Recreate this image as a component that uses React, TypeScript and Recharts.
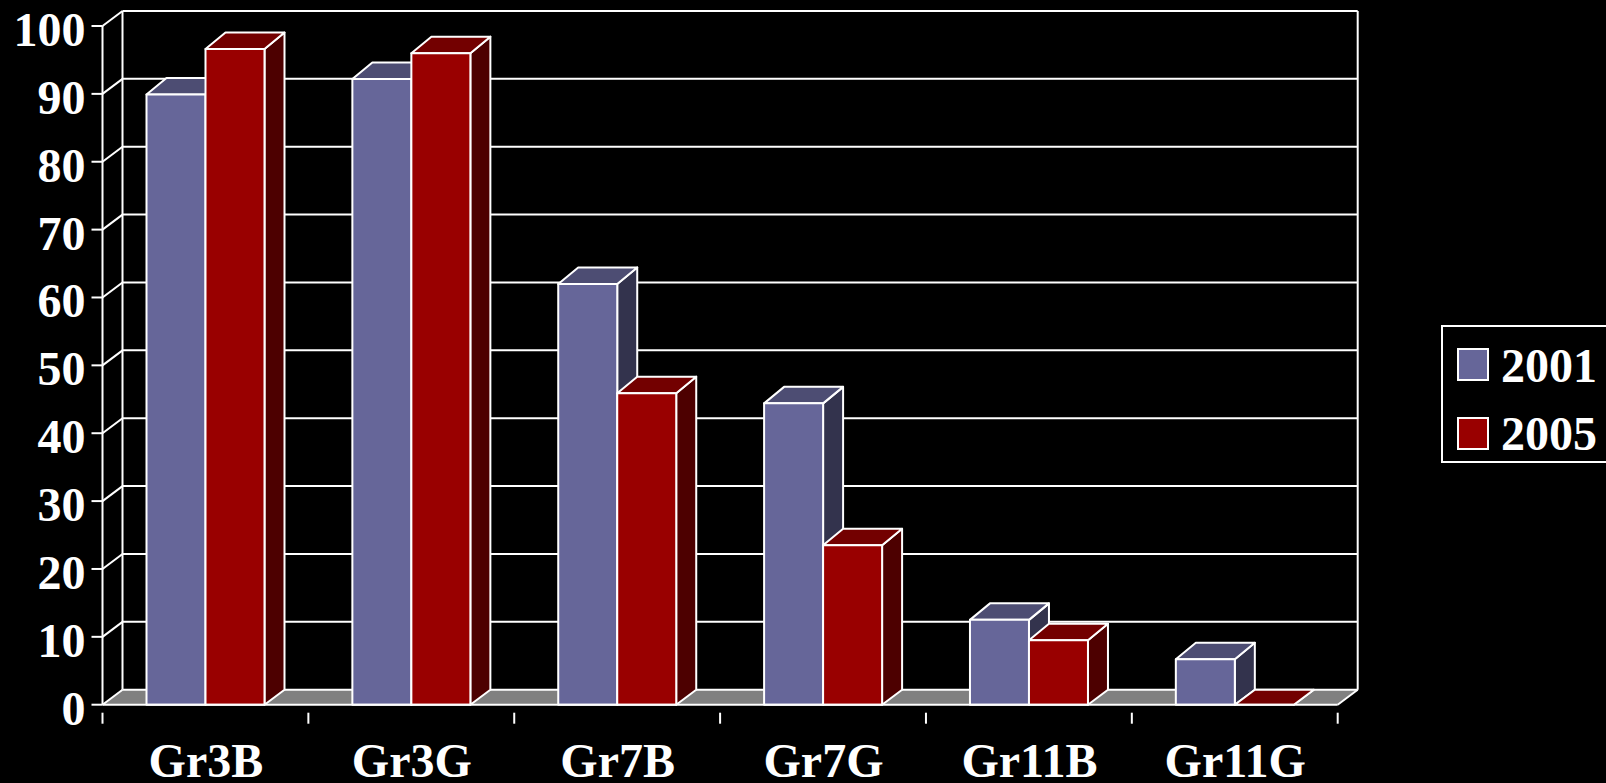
import React from "react";
import { BarChart, Bar, XAxis, YAxis, CartesianGrid, Legend } from "recharts";

const categories = ["Gr3B", "Gr3G", "Gr7B", "Gr7G", "Gr11B", "Gr11G"];
const values2001 = [89.9, 92.2, 62.0, 44.4, 12.5, 6.7];
const values2005 = [96.6, 96.0, 45.9, 23.5, 9.5, 0];
const yTicks = [0, 10, 20, 30, 40, 50, 60, 70, 80, 90, 100];
const seriesNames = ["2001", "2005"];

const table = categories.map((name, i) => ({
  name,
  [seriesNames[0]]: values2001[i],
  [seriesNames[1]]: values2005[i],
}));

const FONT = "'Liberation Serif', 'Times New Roman', serif";
const DX = 20;
const DY = 15;
const BAR_TOP_DY = 16.5;
const LINE = "#ffffff";

const palette = {
  blue: { front: "#666699", top: "#4d4d73", side: "#33334d" },
  red: { front: "#990000", top: "#730000", side: "#4d0000" },
};

const box = (colors: typeof palette.blue) => (props: any) => {
  const { x, y, width, height } = props;
  const r = x + width;
  const b = y + height;
  const dy = height > 0 ? BAR_TOP_DY : DY;
  const common = { stroke: LINE, strokeWidth: 2, strokeLinejoin: "round" as const };
  return (
    <g>
      <polygon points={`${r},${y} ${r + DX},${y - dy} ${r + DX},${b - DY} ${r},${b}`} fill={colors.side} {...common} />
      <polygon points={`${x},${y} ${x + DX},${y - dy} ${r + DX},${y - dy} ${r},${y}`} fill={colors.top} {...common} />
      {height > 0 && <rect x={x} y={y} width={width} height={height} fill={colors.front} {...common} />}
    </g>
  );
};

const gridLine = (props: any) => {
  const { x1, x2, y1, y, height } = props;
  const isFloor = Math.abs(y1 - (y + height)) < 0.5;
  const top = y - DY;
  const back = y1 - DY;
  return (
    <g key={`grid-${y1}`}>
      {isFloor && (
        <>
          <polygon points={`${x1},${y1} ${x1 + DX},${back} ${x2 + DX},${back} ${x2},${y1}`} fill="#808080" />
          <line x1={x1 + DX} y1={top} x2={x1 + DX} y2={back} stroke={LINE} strokeWidth={2} />
          <line x1={x2 + DX} y1={top} x2={x2 + DX} y2={back} stroke={LINE} strokeWidth={2} />
          <line x1={x2} y1={y1} x2={x2 + DX} y2={back} stroke={LINE} strokeWidth={2} />
        </>
      )}
      <line x1={x1 + DX} y1={back} x2={x2 + DX} y2={back} stroke={LINE} strokeWidth={2} />
      <line x1={x1} y1={y1} x2={x1 + DX} y2={back} stroke={LINE} strokeWidth={2} />
    </g>
  );
};

const yTick = (props: any) => (
  <text x={85.5} y={props.y + 20} textAnchor="end" fontFamily={FONT} fontWeight={700} fontSize={48} fill={LINE}>
    {props.payload.value}
  </text>
);

const xTick = (props: any) => {
  const { x, y, payload, index, width } = props;
  const half = width / categories.length / 2;
  const axisY = y;
  return (
    <g>
      <line x1={x - half} y1={axisY} x2={x - half} y2={axisY + 11} stroke={LINE} strokeWidth={2} />
      {index === categories.length - 1 && (
        <line x1={x + half} y1={axisY} x2={x + half} y2={axisY + 11} stroke={LINE} strokeWidth={2} />
      )}
      <text x={x + 0.5} y={777} textAnchor="middle" fontFamily={FONT} fontWeight={700} fontSize={48} fill={LINE}>
        {payload.value}
      </text>
    </g>
  );
};

const legendContent = (props: any) => (
  <div
    style={{
      position: "relative",
      width: 180,
      height: 138,
      border: "2px solid #fff",
      boxSizing: "border-box",
      background: "#000",
    }}
  >
    {(props.payload || []).map((entry: any, i: number) => (
      <div key={entry.value}>
        <div
          style={{
            position: "absolute",
            left: 14,
            top: 21 + i * 68.5,
            width: 32,
            height: 33,
            boxSizing: "border-box",
            border: "2px solid #fff",
            background: entry.color,
          }}
        />
        <div
          style={{
            position: "absolute",
            left: 58,
            top: 11 + i * 68,
            fontFamily: FONT,
            fontWeight: 700,
            fontSize: 48,
            lineHeight: "55px",
            color: "#fff",
          }}
        >
          {entry.value}
        </div>
      </div>
    ))}
  </div>
);

export default function App() {
  return (
    <div style={{ width: 1606, height: 783, background: "#000", overflow: "hidden" }}>
      <style>{`html,body{margin:0;background:#000;overflow:hidden}`}</style>
      <BarChart
        width={1606}
        height={783}
        data={table}
        barCategoryGap={44}
        barGap={0}
        margin={{ top: 26, right: 268.3, bottom: 0, left: 0 }}
      >
        <CartesianGrid vertical={false} horizontal={gridLine} syncWithTicks />
        <XAxis
          dataKey="name"
          height={78.3}
          axisLine={{ stroke: LINE, strokeWidth: 2 }}
          tickLine={false}
          tick={xTick}
          interval={0}
        />
        <YAxis
          width={102.5}
          domain={[0, 100]}
          ticks={yTicks}
          interval={0}
          tickSize={11}
          axisLine={{ stroke: LINE, strokeWidth: 2 }}
          tickLine={{ stroke: LINE, strokeWidth: 2 }}
          tick={yTick}
        />
        <Legend
          layout="vertical"
          align="center"
          verticalAlign="middle"
          content={legendContent}
          wrapperStyle={{ position: "absolute", left: 1441, top: 325, width: 180, height: 138, bottom: "auto", right: "auto" }}
        />
        <Bar dataKey={seriesNames[0]} fill={palette.blue.front} shape={box(palette.blue)} isAnimationActive={false} />
        <Bar dataKey={seriesNames[1]} fill={palette.red.front} shape={box(palette.red)} isAnimationActive={false} />
      </BarChart>
    </div>
  );
}
